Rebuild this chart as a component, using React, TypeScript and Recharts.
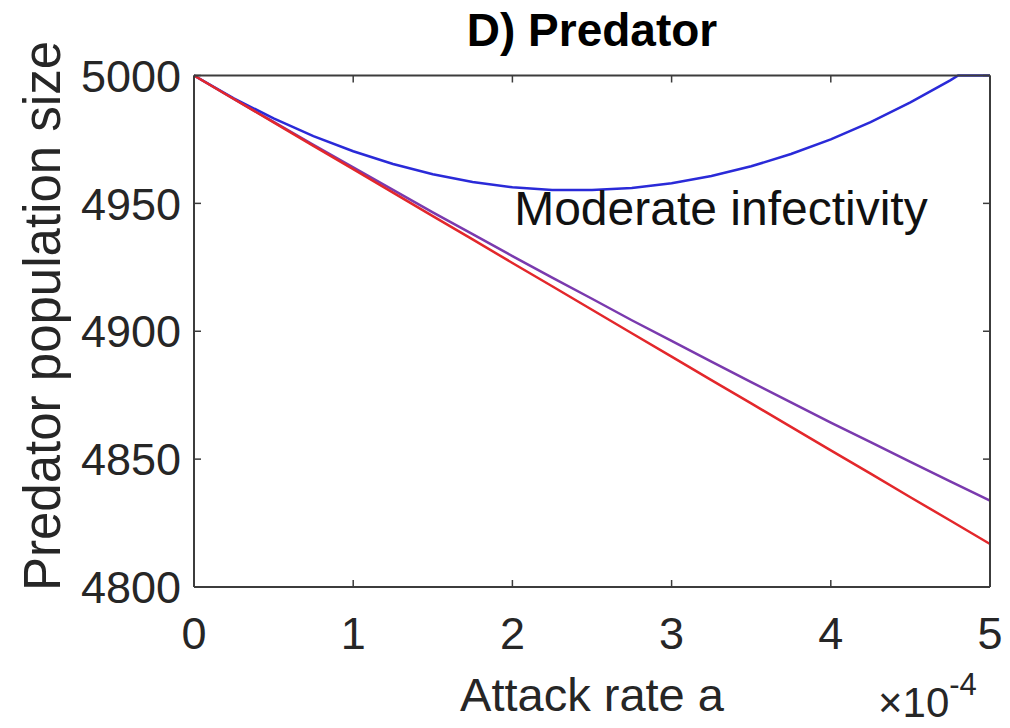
import React from 'react';
import { LineChart, Line, XAxis, YAxis, ReferenceDot } from 'recharts';

// attack rate in units of 1e-4
const attackRate = [0, 0.25, 0.5, 0.75, 1, 1.25, 1.5, 1.75, 2, 2.25, 2.5, 2.75, 3, 3.25, 3.5, 3.75, 4, 4.25, 4.5, 4.75, 5];
const redValues = [5000, 4990.8, 4981.7, 4972.5, 4963.4, 4954.2, 4945.0, 4935.9, 4926.7, 4917.6, 4908.4, 4899.2, 4890.1, 4880.9, 4871.8, 4862.6, 4853.4, 4844.3, 4835.1, 4826.0, 4816.8];
const purpleValues = [5000, 4990.8, 4981.9, 4972.9, 4964.1, 4955.3, 4946.5, 4938.0, 4929.4, 4921.0, 4912.7, 4904.3, 4896.2, 4888.1, 4880.1, 4872.2, 4864.3, 4856.6, 4848.9, 4841.3, 4833.8];

const blueRate = [0, 0.25, 0.5, 0.75, 1, 1.25, 1.5, 1.75, 2, 2.25, 2.5, 2.75, 3, 3.25, 3.5, 3.75, 4, 4.25, 4.5, 4.75, 4.8, 5];
const blueValues = [5000, 4991.1, 4983.2, 4976.3, 4970.4, 4965.4, 4961.4, 4958.4, 4956.3, 4955.2, 4955.2, 4956.0, 4957.9, 4960.7, 4964.5, 4969.3, 4975.0, 4981.8, 4989.5, 4998.1, 5000, 5000];

const xTicks = [0, 1, 2, 3, 4, 5];
const yTicks = [4800, 4850, 4900, 4950, 5000];

const rows = attackRate.map((a, i) => ({ a, red: redValues[i], purple: purpleValues[i] }));
const blueRows = blueRate.map((a, i) => ({ a, blue: blueValues[i] }));

const FONT = '"Liberation Sans", Arial, Helvetica, sans-serif';
const AXIS = '#3c3c3c';
const TEXT = '#262626';
const TICK_LEN = 7;

const BottomTick = (props: any) => {
  const { x, y, payload } = props;
  return (
    <g>
      <line x1={x} x2={x} y1={y} y2={y - TICK_LEN} stroke={AXIS} strokeWidth={1.5} />
      <text x={x} y={y + 62} textAnchor="middle" fontFamily={FONT} fontSize={45} fill={TEXT}>
        {payload.value}
      </text>
    </g>
  );
};

const TopTick = (props: any) => {
  const { x, y } = props;
  return <line x1={x} x2={x} y1={y} y2={y + TICK_LEN} stroke={AXIS} strokeWidth={1.5} />;
};

const LeftTick = (props: any) => {
  const { x, y, payload } = props;
  return (
    <g>
      <line x1={x} x2={x + TICK_LEN} y1={y} y2={y} stroke={AXIS} strokeWidth={1.5} />
      <text x={x - 13} y={y} dy="0.36em" textAnchor="end" fontFamily={FONT} fontSize={45} fill={TEXT}>
        {payload.value}
      </text>
    </g>
  );
};

const RightTick = (props: any) => {
  const { x, y } = props;
  return <line x1={x} x2={x - TICK_LEN} y1={y} y2={y} stroke={AXIS} strokeWidth={1.5} />;
};

const XLabel = (props: any) => {
  const vb = props.viewBox;
  const cx = vb.x + vb.width / 2;
  return (
    <g fontFamily={FONT} fill={TEXT}>
      <text x={cx} y={711} textAnchor="middle" fontSize={47}>Attack rate a</text>
      <text x={878} y={717} fontSize={42}>
        ×10<tspan dy={-22} fontSize={31}>-4</tspan>
      </text>
    </g>
  );
};

const YLabel = () => {
  const cx = 60;
  const cy = 316;
  return (
    <text
      x={cx}
      y={cy}
      transform={`rotate(-90 ${cx} ${cy})`}
      textAnchor="middle"
      fontFamily={FONT}
      fontSize={51}
      fill={TEXT}
    >
      Predator population size
    </text>
  );
};

const Title = (props: any) => {
  const vb = props.viewBox;
  const cx = vb.x + vb.width / 2;
  return (
    <text x={cx} y={46} textAnchor="middle" fontFamily={FONT} fontSize={46} fontWeight="bold" fill="#000">
      D) Predator
    </text>
  );
};

const Annotation = (props: any) => {
  const vb = props.viewBox;
  const cx = vb.x + (vb.width || 0) / 2;
  const cy = vb.y + (vb.height || 0) / 2;
  return (
    <text x={cx} y={cy + 17} textAnchor="middle" fontFamily={FONT} fontSize={48} fill="#111">
      Moderate infectivity
    </text>
  );
};

export default function App() {
  return (
    <div style={{ position: 'absolute', left: 0, top: 0, background: '#fff' }}>
      <LineChart width={1010} height={728} data={rows} margin={{ top: 74.5, right: 19, bottom: 0, left: 0 }}>
        <XAxis
          dataKey="a"
          type="number"
          domain={[0, 5]}
          ticks={xTicks}
          height={141}
          tickSize={0}
          tickMargin={0}
          tickLine={false}
          tick={<BottomTick />}
          axisLine={{ stroke: AXIS, strokeWidth: 2 }}
          label={<XLabel />}
        />
        <XAxis
          xAxisId="top"
          orientation="top"
          dataKey="a"
          type="number"
          domain={[0, 5]}
          ticks={xTicks}
          height={1}
          tickSize={0}
          tickMargin={0}
          tickLine={false}
          tick={<TopTick />}
          axisLine={{ stroke: AXIS, strokeWidth: 2 }}
          label={<Title />}
        />
        <YAxis
          type="number"
          domain={[4800, 5000]}
          ticks={yTicks}
          width={194}
          tickSize={0}
          tickMargin={0}
          tickLine={false}
          tick={<LeftTick />}
          axisLine={{ stroke: AXIS, strokeWidth: 2 }}
          label={<YLabel />}
        />
        <YAxis
          yAxisId="right"
          orientation="right"
          type="number"
          domain={[4800, 5000]}
          ticks={yTicks}
          width={1}
          tickSize={0}
          tickMargin={0}
          tickLine={false}
          tick={<RightTick />}
          axisLine={{ stroke: AXIS, strokeWidth: 2 }}
        />
        <Line
          data={blueRows}
          dataKey="blue"
          type="linear"
          stroke="#2a2ad8"
          strokeWidth={2.5}
          dot={false}
          isAnimationActive={false}
        />
        <Line dataKey="purple" type="linear" stroke="#7a3aae" strokeWidth={2.5} dot={false} isAnimationActive={false} />
        <Line
          xAxisId="top"
          yAxisId="right"
          dataKey="red"
          type="linear"
          stroke="#e3272b"
          strokeWidth={2.5}
          dot={false}
          isAnimationActive={false}
        />
        <ReferenceDot x={3.31} y={4948} r={0} fill="none" stroke="none" ifOverflow="visible" label={<Annotation />} />
      </LineChart>
    </div>
  );
}
